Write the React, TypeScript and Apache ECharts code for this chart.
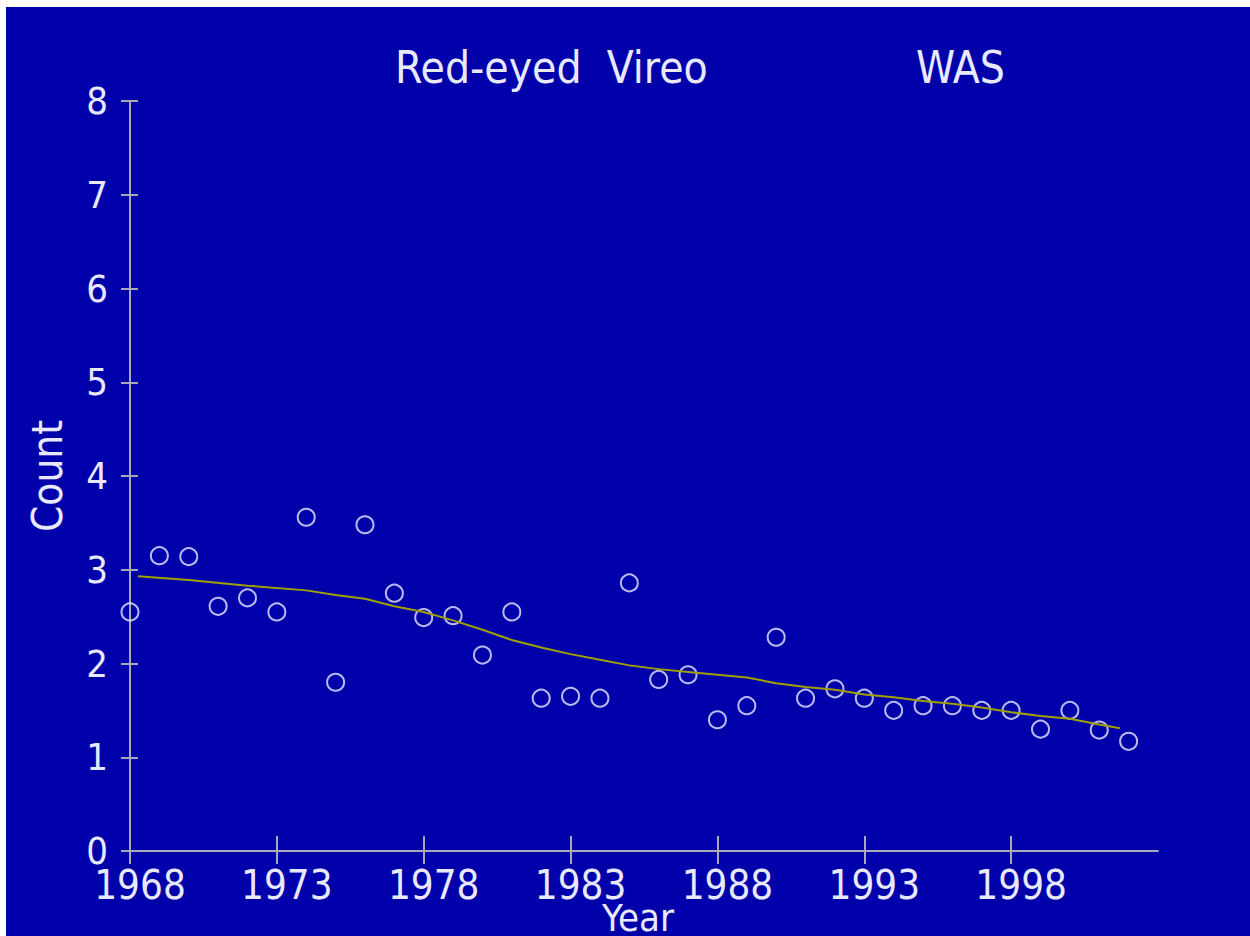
import React, { useEffect, useRef } from "react";
import * as echarts from "echarts";

const titleText = "Red-eyed  Vireo";
const regionText = "WAS";
const xName = "Year";
const yName = "Count";
const years = [
  1968, 1969, 1970, 1971, 1972, 1973, 1974, 1975, 1976, 1977, 1978, 1979, 1980, 1981, 1982, 1983, 1984, 1985,
  1986, 1987, 1988, 1989, 1990, 1991, 1992, 1993, 1994, 1995, 1996, 1997, 1998, 1999, 2000, 2001, 2002,
];
const counts = [
  2.55, 3.15, 3.14, 2.61, 2.7, 2.55, 3.56, 1.8, 3.48, 2.75, 2.49, 2.51, 2.09, 2.55, 1.63, 1.65, 1.63, 2.86,
  1.83, 1.88, 1.4, 1.55, 2.28, 1.63, 1.73, 1.63, 1.5, 1.55, 1.55, 1.5, 1.5, 1.3, 1.5, 1.29, 1.17,
];
const trendYears = [
  1968.27, 1970, 1972, 1974, 1975, 1976, 1977, 1978, 1979, 1980, 1981, 1982, 1983, 1984, 1985, 1986, 1987,
  1988, 1989, 1990, 1991, 1992, 1993, 1994, 1995, 1996, 1997, 1998, 1999, 2000, 2001, 2001.7,
];
const trendValues = [
  2.93, 2.89, 2.83, 2.78, 2.73, 2.69, 2.61, 2.55, 2.46, 2.36, 2.25, 2.17, 2.1, 2.04, 1.98, 1.94, 1.91,
  1.88, 1.85, 1.79, 1.75, 1.72, 1.67, 1.64, 1.6, 1.57, 1.53, 1.48, 1.44, 1.41, 1.35, 1.31,
];
const xTickValues = [1968, 1973, 1978, 1983, 1988, 1993, 1998];
const yTickValues = [0, 1, 2, 3, 4, 5, 6, 7, 8];

const FONT = '"Liberation Sans Narrow", "DejaVu Sans Condensed", "Liberation Sans", sans-serif';
const TEXT = "#e8e8ff";
const AXIS = "#a8a8b8";

export default function App() {
  const ref = useRef<HTMLDivElement>(null);
  useEffect(() => {
    if (!ref.current) return;
    const chart = echarts.init(ref.current, null, { renderer: "svg" });
    const grid = { left: 124, right: 92, top: 94, bottom: 85, containLabel: false, outerBoundsMode: "none" };
    const baseX = {
      type: "value",
      min: 1968,
      max: 2003,
      position: "bottom",
      splitLine: { show: false },
    };
    const baseY = {
      type: "value",
      min: 0,
      max: 8,
      interval: 1,
      position: "left",
      splitLine: { show: false },
    };
    chart.setOption({
      animation: false,
      backgroundColor: "#0000aa",
      title: [
        {
          text: titleText,
          left: 384,
          top: 33,
          textStyle: { color: TEXT, fontFamily: FONT, fontSize: 44, fontWeight: "normal" },
        },
        {
          text: regionText,
          left: 905,
          top: 33,
          textStyle: { color: TEXT, fontFamily: FONT, fontSize: 44, fontWeight: "normal" },
        },
      ],
      graphic: [
        {
          type: "text",
          x: 632,
          y: 926,
          style: {
            text: xName,
            fill: TEXT,
            font: `38px ${FONT}`,
            lineHeight: 30,
            align: "center",
            verticalAlign: "bottom",
          },
        },
      ],
      grid,
      xAxis: [
        {
          ...baseX,
          axisLine: { show: true, lineStyle: { color: AXIS, width: 2 } },
          axisTick: { show: true, length: 13, customValues: xTickValues, lineStyle: { color: AXIS, width: 2 } },
          axisLabel: {
            customValues: xTickValues,
            formatter: (v: number) => String(v),
            color: TEXT,
            fontFamily: FONT,
            fontSize: 40,
            lineHeight: 30,
            margin: 19,
            padding: [0, 0, 0, 20],
          },
        },
        {
          ...baseX,
          axisLine: { show: false },
          axisTick: { show: true, inside: true, length: 15, customValues: xTickValues, lineStyle: { color: AXIS, width: 2 } },
          axisLabel: { show: false },
        },
      ],
      yAxis: [
        {
          ...baseY,
          name: yName,
          nameLocation: "middle",
          nameGap: 62,
          nameTextStyle: { color: TEXT, fontFamily: FONT, fontSize: 42 },
          axisLine: { show: true, lineStyle: { color: AXIS, width: 2 } },
          axisTick: { show: true, length: 9, lineStyle: { color: AXIS, width: 2 } },
          axisLabel: {
            customValues: yTickValues,
            color: TEXT,
            fontFamily: FONT,
            fontSize: 38,
            lineHeight: 28,
            margin: 22,
          },
        },
        {
          ...baseY,
          axisLine: { show: false },
          axisTick: { show: true, inside: true, length: 8, lineStyle: { color: AXIS, width: 2 } },
          axisLabel: { show: false },
        },
      ],
      series: [
        {
          type: "scatter",
          xAxisIndex: 0,
          yAxisIndex: 0,
          symbol: "circle",
          symbolSize: 17,
          data: years.map((y, i) => [y, counts[i]]),
          itemStyle: { color: "rgba(0,0,0,0)", borderColor: TEXT, borderWidth: 2 },
          z: 2,
        },
        {
          type: "line",
          xAxisIndex: 0,
          yAxisIndex: 0,
          showSymbol: false,
          symbol: "none",
          smooth: false,
          data: trendYears.map((y, i) => [y, trendValues[i]]),
          lineStyle: { color: "#a0a000", width: 2 },
          z: 3,
        },
      ],
    });
    return () => chart.dispose();
  }, []);
  return (
    <div
      ref={ref}
      style={{ position: "absolute", left: 6, top: 7, width: 1244, height: 929 }}
    />
  );
}
